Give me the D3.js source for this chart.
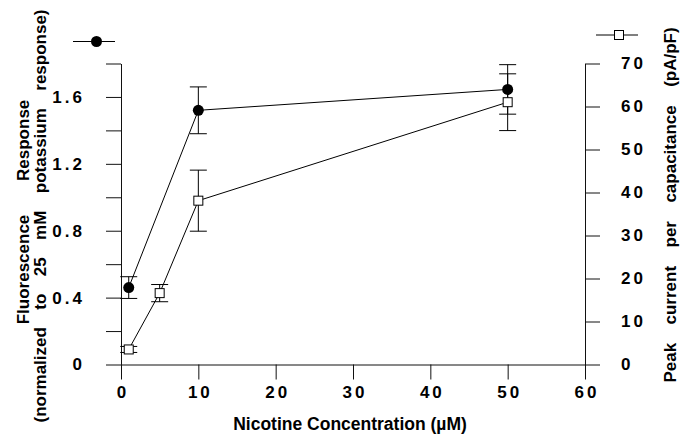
<!DOCTYPE html>
<html><head><meta charset="utf-8">
<script src="https://cdn.jsdelivr.net/npm/d3@7"></script>
<style>
html,body{margin:0;padding:0;background:#fff;}
svg{display:block;}
text{font-family:"Liberation Sans",Arial,Helvetica,sans-serif;font-weight:bold;fill:#000;}
</style>
</head><body>
<svg id="c" width="683" height="438"></svg>
<script>
// ---- data ----
const fluorConc = [1, 10, 50];
const fluorValues = [0.46, 1.52, 1.645];
const fluorErrors = [0.065, 0.14, 0.148];
const currentConc = [1, 5, 10, 50];
const currentValues = [3.5, 16.6, 38.1, 61.0];
const currentErrors = [0.7, 2.0, 7.1, 6.6];
const xTicks = [0, 10, 20, 30, 40, 50, 60];
const leftTicks = [0, 0.2, 0.4, 0.6, 0.8, 1.0, 1.2, 1.4, 1.6, 1.8];
const leftTickLabels = ["0", "", "0.4", "", "0.8", "", "1.2", "", "1.6", ""];
const rightTicks = [0, 10, 20, 30, 40, 50, 60, 70];
const rightTickLabels = ["0", "10", "20", "30", "40", "50", "60", "70"];
const xTitle = "Nicotine Concentration (\u00B5M)";
const leftTitle1 = "Fluorescence Response";
const leftTitle2 = "(normalized to 25 mM potassium response)";
const rightTitle = "Peak current per capacitance (pA/pF)";

// ---- layout ----
const svg = d3.select("#c");
svg.append("rect").attr("width", 683).attr("height", 438).attr("fill", "#fff");
const x = d3.scaleLinear().domain([0, 60]).range([121, 585]);
const yL = d3.scaleLinear().domain([0, 1.8]).range([364.5, 63.5]);
const yR = d3.scaleLinear().domain([0, 70]).range([364.5, 63.5]);
const LS = 3;

function styleAxis(g) {
  g.selectAll("path,line").attr("stroke", "#111").attr("stroke-width", 1);
  g.selectAll("text").attr("font-size", 17).attr("font-family", null)
    .attr("letter-spacing", LS).attr("fill", "#000");
}

// x axis
const gx = svg.append("g").attr("transform", "translate(0,364.5)")
  .call(d3.axisBottom(x).tickValues(xTicks).tickSize(15).tickSizeOuter(0).tickPadding(10)
    .tickFormat(d => String(d)));
styleAxis(gx);
gx.selectAll("text").attr("dx", LS / 2).attr("dy", "0.75em").attr("y", 21);

// left axis
const gl = svg.append("g").attr("transform", "translate(121,0)")
  .call(d3.axisLeft(yL).tickValues(leftTicks).tickSize(15).tickSizeOuter(0).tickPadding(24)
    .tickFormat((d, i) => leftTickLabels[i]));
styleAxis(gl);
gl.selectAll("text").attr("dx", LS);

// right axis
const gr = svg.append("g").attr("transform", "translate(585,0)")
  .call(d3.axisRight(yR).tickValues(rightTicks).tickSize(15).tickSizeOuter(0).tickPadding(21)
    .tickFormat((d, i) => rightTickLabels[i]));
styleAxis(gr);

// extend x axis line across tick 0 of both y axes (drawn by ticks already)

// ---- series ----
const line = d3.line();
const fluorPts = fluorConc.map((c, i) => [x(c), yL(fluorValues[i])]);
const curPts = currentConc.map((c, i) => [x(c), yR(currentValues[i])]);
svg.append("path").attr("d", line(curPts)).attr("fill", "none").attr("stroke", "#000").attr("stroke-width", 1);
svg.append("path").attr("d", line(fluorPts)).attr("fill", "none").attr("stroke", "#000").attr("stroke-width", 1);

function errBars(concs, vals, errs, y) {
  const g = svg.append("g").attr("stroke", "#000").attr("stroke-width", 1);
  concs.forEach((c, i) => {
    const cx = x(c), t = y(vals[i] + errs[i]), b = y(vals[i] - errs[i]);
    g.append("line").attr("x1", cx).attr("x2", cx).attr("y1", t).attr("y2", b);
    g.append("line").attr("x1", cx - 8.5).attr("x2", cx + 8.5).attr("y1", t).attr("y2", t);
    g.append("line").attr("x1", cx - 8.5).attr("x2", cx + 8.5).attr("y1", b).attr("y2", b);
  });
}
errBars(currentConc, currentValues, currentErrors, yR);
errBars(fluorConc, fluorValues, fluorErrors, yL);

svg.append("g").selectAll("rect").data(currentConc).join("rect")
  .attr("x", (d, i) => x(d) - 4.5).attr("y", (d, i) => yR(currentValues[i]) - 4.5)
  .attr("width", 9).attr("height", 9).attr("fill", "#fff").attr("stroke", "#000").attr("stroke-width", 1);
svg.append("g").selectAll("circle").data(fluorConc).join("circle")
  .attr("cx", d => x(d)).attr("cy", (d, i) => yL(fluorValues[i])).attr("r", 5.5).attr("fill", "#000");

// ---- legend symbols ----
svg.append("line").attr("x1", 73).attr("x2", 115).attr("y1", 41.5).attr("y2", 41.5).attr("stroke", "#000");
svg.append("circle").attr("cx", 96.5).attr("cy", 41.5).attr("r", 5.5).attr("fill", "#000");
svg.append("line").attr("x1", 596).attr("x2", 638).attr("y1", 35).attr("y2", 35).attr("stroke", "#000");
svg.append("rect").attr("x", 614.5).attr("y", 30.5).attr("width", 9).attr("height", 9)
  .attr("fill", "#fff").attr("stroke", "#000");

// ---- titles ----
svg.append("text").attr("x", 350).attr("y", 430).attr("text-anchor", "middle")
  .attr("font-size", 17.5).text(xTitle);
svg.append("text").attr("transform", "translate(29,212) rotate(-90)").attr("text-anchor", "middle")
  .attr("font-size", 17).attr("word-spacing", 29).text(leftTitle1);
svg.append("text").attr("transform", "translate(46,216) rotate(-90)").attr("text-anchor", "middle")
  .attr("font-size", 17).attr("word-spacing", 12.7).text(leftTitle2);
svg.append("text").attr("transform", "translate(676,205) rotate(-90)").attr("text-anchor", "middle")
  .attr("font-size", 17).attr("word-spacing", 13.7).text(rightTitle);
</script>
</body></html>
